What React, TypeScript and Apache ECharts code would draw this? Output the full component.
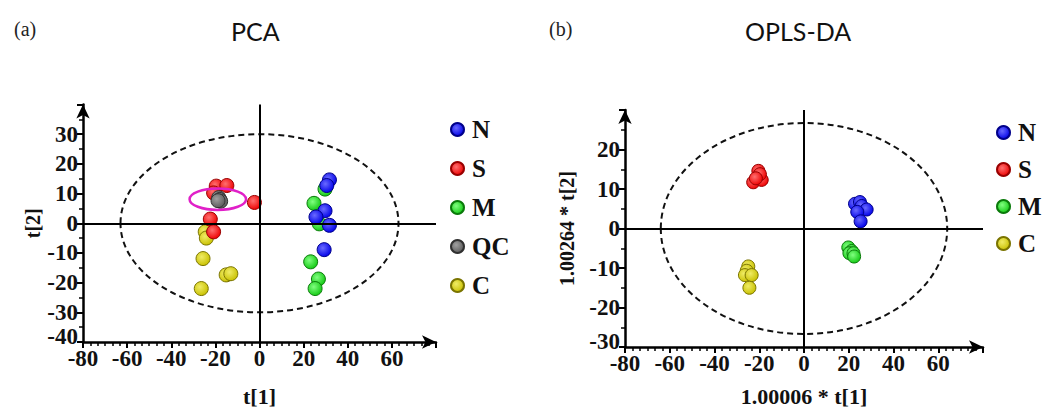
import React, { useEffect, useRef } from "react";
import * as echarts from "echarts";

// ---------- data ----------
const legendPCA = ["N", "S", "M", "QC", "C"];
const legendOPLS = ["N", "S", "M", "C"];

const pcaN = [[31.7, 14.6], [30.5, 12.7], [29.7, 4.2], [25.6, 2.1], [31.7, -0.7], [29.3, -8.9]];
const pcaS = [[-19.6, 12.5], [-14.8, 12.7], [-20.8, 10.2], [-2.3, 7.0], [-22.3, 1.4], [-20.8, -2.9]];
const pcaM = [[29.7, 11.5], [24.7, 6.7], [27.1, -0.2], [23.2, -13.0], [26.7, -18.8], [25.2, -22.0]];
const pcaQC = [[-18.5, 8.6], [-18.0, 8.0], [-17.6, 7.4], [-18.8, 7.6]];
const pcaC = [[-24.6, -2.9], [-24.1, -5.0], [-25.6, -11.9], [-15.1, -17.4], [-13.0, -17.0], [-26.4, -22.0]];

const oplsN = [[22.8, 6.25], [25.0, 6.7], [25.8, 5.7], [28.0, 4.8], [23.8, 4.2], [25.3, 1.8]];
const oplsS = [[-22.7, 11.7], [-20.4, 14.6], [-18.9, 12.3], [-19.7, 13.75], [-21.5, 12.7]];
const oplsM = [[19.8, -4.8], [21.3, -5.7], [20.3, -6.25], [22.1, -6.25], [22.4, -7.1]];
const oplsC = [[-24.9, -9.6], [-25.6, -10.7], [-26.4, -11.8], [-23.4, -11.8], [-24.4, -15.0]];

// ellipses: [centerX, centerY, radiusX, radiusY]
const pcaEllipse = [[0, 0, 63, 30]];
const qcEllipse = [[-18.9, 8.1, 12.8, 3.6]];
const oplsEllipse = [[0, 0, 64, 26.7]];

// ---------- styles ----------
const serif = "'Liberation Serif', 'Times New Roman', serif";
const palette: Record<string, [string, string, string]> = {
  N: ["#6a6aff", "#0000e8", "#00008a"],
  S: ["#ff7070", "#ee0000", "#990000"],
  M: ["#80ff80", "#12c812", "#0a7a0a"],
  QC: ["#a0a0a0", "#5a5a5a", "#303030"],
  C: ["#f0ec66", "#c8c000", "#7a7400"],
};

function grad(name: string) {
  const [l, b] = palette[name];
  return {
    type: "radial",
    x: 0.4,
    y: 0.38,
    r: 0.65,
    colorStops: [
      { offset: 0, color: l },
      { offset: 1, color: b },
    ],
  };
}

function scatter(name: string, data: number[][], idx: number, size: number) {
  return {
    name,
    type: "scatter",
    xAxisIndex: idx,
    yAxisIndex: idx,
    data,
    symbolSize: size,
    z: 4,
    itemStyle: { color: grad(name), borderColor: palette[name][2], borderWidth: 1, opacity: 1 },
  };
}

function ellipseSeries(data: number[][], idx: number, stroke: string, width: number, dash: number[] | null) {
  return {
    type: "custom",
    xAxisIndex: idx,
    yAxisIndex: idx,
    silent: true,
    z: 2,
    data,
    renderItem: (_p: any, api: any) => {
      const c = api.coord([api.value(0), api.value(1)]);
      const s = api.size([api.value(2), api.value(3)]);
      return {
        type: "ellipse",
        shape: { cx: c[0], cy: c[1], rx: s[0], ry: s[1] },
        style: { fill: "none", stroke, lineWidth: width, lineDash: dash || undefined },
      };
    },
  };
}

function crossSeries(idx: number) {
  return {
    type: "scatter",
    xAxisIndex: idx,
    yAxisIndex: idx,
    data: [],
    silent: true,
    z: 1,
    markLine: {
      silent: true,
      symbol: ["none", "none"],
      label: { show: false },
      lineStyle: { color: "#000", type: "solid", width: 2 },
      data: [{ xAxis: 0 }, { yAxis: 0 }],
    },
  };
}

const tickLabel = {
  fontFamily: serif,
  fontWeight: "bold",
  fontSize: 23,
  color: "#111",
};

function xAxis(idx: number, name: string, gap: number) {
  return {
    gridIndex: idx,
    type: "value",
    min: -80,
    max: 80,
    interval: 20,
    axisLine: {
      onZero: false,
      symbol: ["none", "arrow"],
      symbolSize: [10, 14],
      lineStyle: { color: "#000", width: 2.5 },
    },
    axisTick: { show: true, length: 6, lineStyle: { color: "#000", width: 2 } },
    minorTick: { show: true, splitNumber: 6, length: 4, lineStyle: { color: "#000", width: 1.5 } },
    splitLine: { show: false },
    minorSplitLine: { show: false },
    axisLabel: { ...tickLabel, lineHeight: 12, showMaxLabel: false, margin: 10 },
    name,
    nameLocation: "middle",
    nameGap: gap,
    nameTextStyle: { ...tickLabel, fontSize: 22 },
  };
}

function yAxis(idx: number, min: number, max: number, name: string, gap: number) {
  return {
    gridIndex: idx,
    type: "value",
    min,
    max,
    interval: 10,
    axisLine: {
      onZero: false,
      symbol: ["none", "arrow"],
      symbolSize: [10, 14],
      lineStyle: { color: "#000", width: 2.5 },
    },
    axisTick: { show: true, length: 6, lineStyle: { color: "#000", width: 2 } },
    minorTick: { show: true, splitNumber: 2, length: 4, lineStyle: { color: "#000", width: 1.5 } },
    splitLine: { show: false },
    minorSplitLine: { show: false },
    axisLabel: { ...tickLabel, lineHeight: 12, showMaxLabel: false, margin: 5, verticalAlignMinLabel: "bottom" },
    name,
    nameLocation: "middle",
    nameGap: gap,
    nameRotate: 90,
    nameTextStyle: { ...tickLabel, fontSize: 20 },
  };
}

export default function App() {
  const ref = useRef<HTMLDivElement>(null);

  useEffect(() => {
    if (!ref.current) return;
    const chart = echarts.init(ref.current, null, { renderer: "svg" });
    const legendText = { fontFamily: serif, fontWeight: "bold", fontSize: 25, color: "#111", lineHeight: 20, padding: [0, 0, 0, 3] };
    const option: any = {
      animation: false,
      backgroundColor: "#fff",
      title: [
        { text: "(a)", left: 9, top: 14, textStyle: { fontFamily: serif, fontWeight: "normal", fontSize: 20, color: "#222" } },
        { text: "PCA", left: 226, top: 13, textStyle: { fontFamily: "Lato", fontWeight: "normal", fontSize: 25, color: "#111" } },
        { text: "(b)", left: 544, top: 14, textStyle: { fontFamily: serif, fontWeight: "normal", fontSize: 20, color: "#222" } },
        { text: "OPLS-DA", left: 740, top: 13, textStyle: { fontFamily: "Lato", fontWeight: "normal", fontSize: 25, color: "#111" } },
      ],
      legend: [
        {
          data: legendPCA,
          orient: "vertical",
          left: 445,
          top: 112,
          itemWidth: 13,
          itemHeight: 13,
          itemGap: 14,
          icon: "circle",
          selectedMode: false,
          textStyle: legendText,
        },
        {
          data: legendOPLS,
          orient: "vertical",
          left: 991,
          top: 115,
          itemWidth: 13,
          itemHeight: 13,
          itemGap: 12,
          icon: "circle",
          selectedMode: false,
          textStyle: legendText,
        },
      ],
      grid: [
        { left: 83, right: 609, top: 104.5, bottom: 56.3 },
        { left: 625, right: 62, top: 110, bottom: 61.3 },
      ],
      xAxis: [xAxis(0, "t[1]", 43), xAxis(1, "1.00006 * t[1]", 38)],
      yAxis: [yAxis(0, -40, 40, "t[2]", 36), yAxis(1, -30, 30, "1.00264 * t[2]", 48)],
      series: [
        crossSeries(0),
        ellipseSeries(pcaEllipse, 0, "#111", 2, [6, 4]),
        scatter("C", pcaC, 0, 14),
        scatter("M", pcaM, 0, 14),
        scatter("N", pcaN, 0, 14),
        scatter("S", pcaS, 0, 14),
        scatter("QC", pcaQC, 0, 14),
        { ...ellipseSeries(qcEllipse, 0, "#e020c8", 2.5, null), z: 5 },
        crossSeries(1),
        ellipseSeries(oplsEllipse, 1, "#111", 2, [6, 4]),
        scatter("C", oplsC, 1, 13),
        scatter("M", oplsM, 1, 13),
        scatter("N", oplsN, 1, 13),
        scatter("S", oplsS, 1, 13),
      ],
    };
    chart.setOption(option);
    return () => chart.dispose();
  }, []);

  return (
    <div
      ref={ref}
      style={{ position: "fixed", left: 0, top: 0, width: 1045, height: 412, background: "#fff" }}
    />
  );
}
